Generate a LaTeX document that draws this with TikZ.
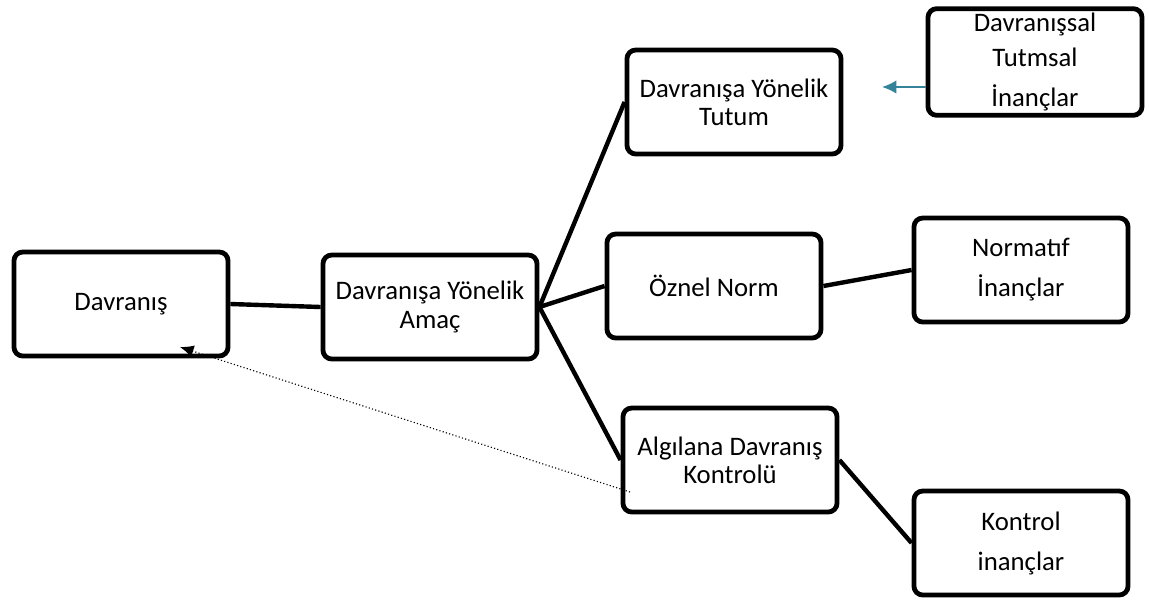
\documentclass[tikz,border=0pt]{standalone}
\usepackage{fontspec}
\setmainfont{Carlito}
\usetikzlibrary{arrows.meta}

\definecolor{tealline}{RGB}{52,131,153}

\begin{document}
\begin{tikzpicture}[x=0.025cm,y=-0.025cm]

    % styles
    \tikzstyle{box} = [draw=black,line width=0.12cm,rounded corners=0.22cm,
        minimum width=5.35cm,minimum height=2.6cm,align=center,
        font=\fontsize{19pt}{20pt}\selectfont]
    \tikzstyle{link} = [line width=0.11cm,draw=black]
    \tikzstyle{tealarrow} = [line width=0.05cm,draw=tealline,-{Latex[length=0.36cm,width=0.34cm]}]
    \tikzstyle{dotarrow} = [line width=0.8pt,dash pattern=on 0.8pt off 1.6pt,draw=black,
        -{Latex[length=0.34cm,width=0.3cm]}]

    \useasboundingbox (0,0) rectangle (1149,601);

    % boxes
    \node[box] (dav)  at (121,304) {Davranış};
    \node[box] (amac) at (430,307) {Davranışa Yönelik\\Amaç};
    \node[box] (tut)  at (734,102) {Davranışa Yönelik\\Tutum};
    \node[box] (ozn)  at (714,286) {Öznel Norm};
    \node[box] (alg)  at (730,460) {Algılana Davranış\\Kontrolü};
    \node[box] (dts)  at (1035,62) {Davranışsal\\[4.3pt]Tutmsal\\[8.5pt]İnançlar};
    \node[box] (norm) at (1021,270) {Normatıf\\[8.5pt]İnançlar};
    \node[box] (kon)  at (1021,543) {Kontrol\\[8.5pt]inançlar};

    % links
    \path[link] (dav.east) -- (amac.west);
    \path[link] (amac.east) -- (tut.west);
    \path[link] (amac.east) -- (ozn.west);
    \path[link] (amac.east) -- (alg.west);
    \path[link] (ozn.east) -- (norm.west);
    \path[link] (alg.east) -- (kon.west);

    % arrows
    \coordinate (tuttip) at (882,87);
    \path[tealarrow] (dts.west |- tuttip) -- (tuttip);
    \coordinate (dotstart) at (630,492);
    \coordinate (davtip) at (180,347);
    \path[dotarrow] (dotstart) -- (davtip);
\end{tikzpicture}
\end{document}
